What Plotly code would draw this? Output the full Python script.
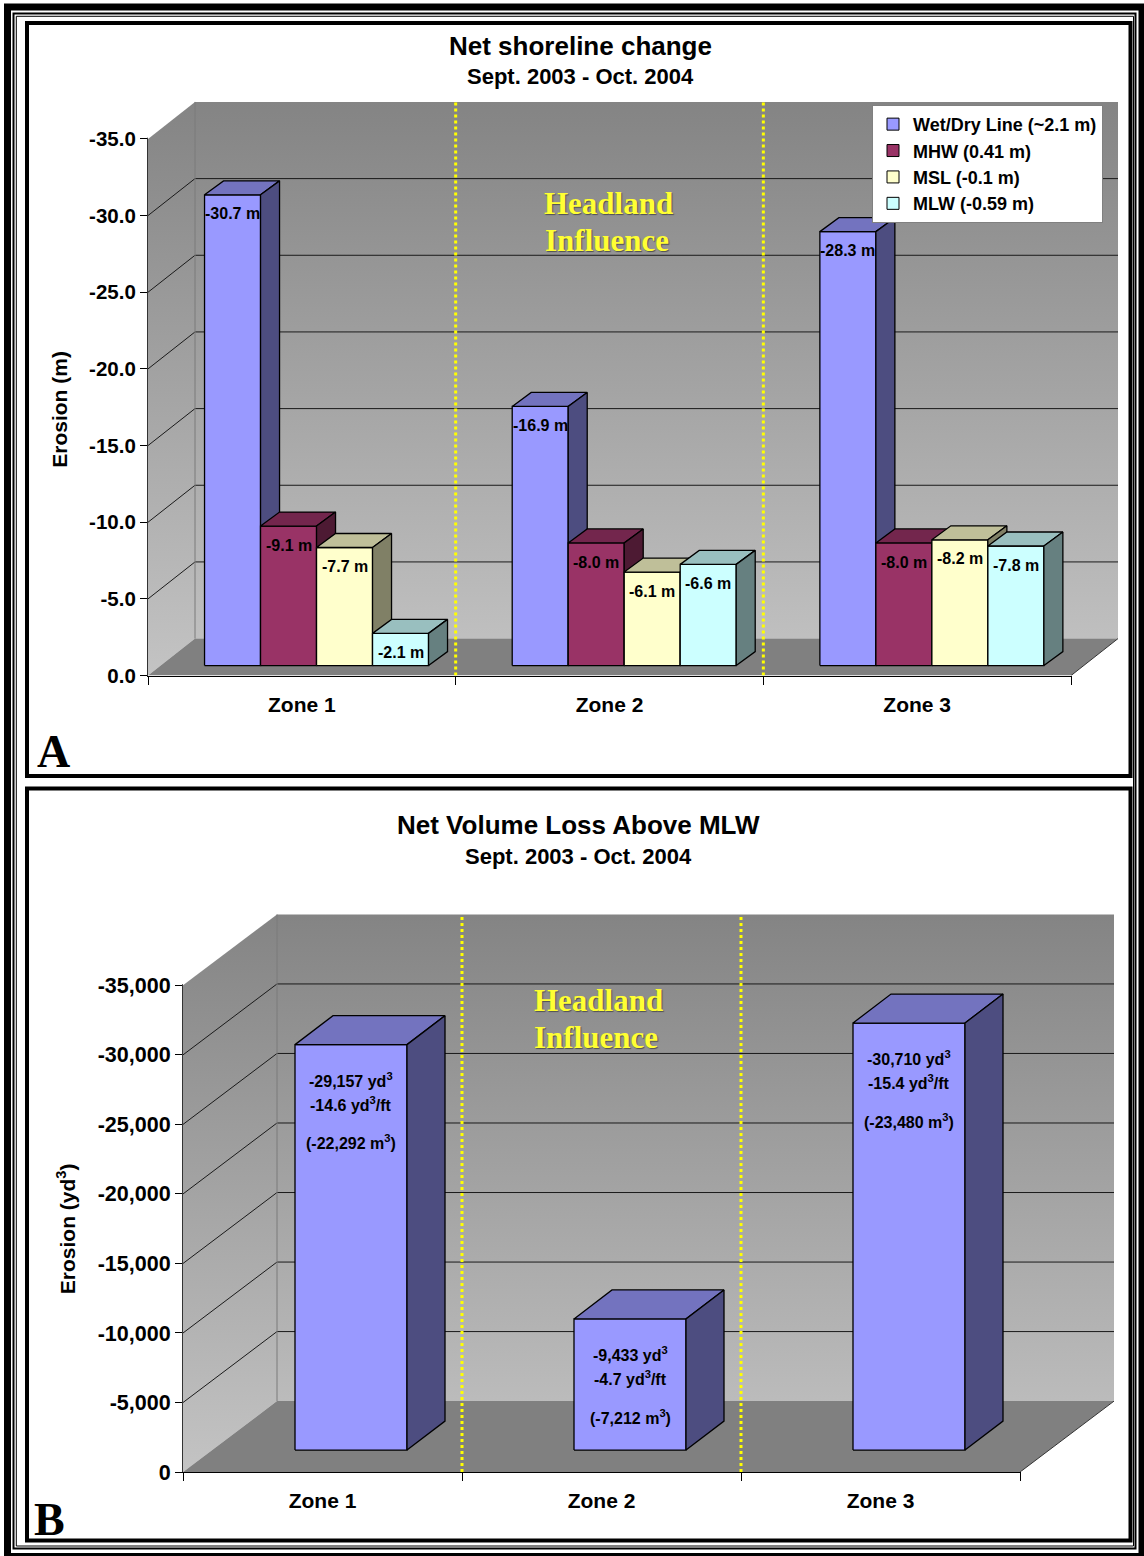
import plotly.graph_objects as go

# layout canvas (pixel positions below are given on a 1144 x 1556 grid)
W, H_GRID = 1144, 1556
H = 1568
SY = H / H_GRID

# ---------------- data ----------------
ZONES = ["Zone 1", "Zone 2", "Zone 3"]

SERIES_A = ["Wet/Dry Line (~2.1 m)", "MHW (0.41 m)", "MSL (-0.1 m)", "MLW (-0.59 m)"]
WET_DRY_LINE = [-30.7, -16.9, -28.3]
MHW = [-9.1, -8.0, -8.0]
MSL = [-7.7, -6.1, -8.2]
MLW = [-2.1, -6.6, -7.8]
TICKS_A = [0, -5, -10, -15, -20, -25, -30, -35]
TICK_TEXT_A = [f"{v:.1f}" for v in TICKS_A]

VOLUME_YD3 = [-29157, -9433, -30710]
VOLUME_YD3_PER_FT = [-14.6, -4.7, -15.4]
VOLUME_M3 = [-22292, -7212, -23480]
TICKS_B = [0, -5000, -10000, -15000, -20000, -25000, -30000, -35000]
TICK_TEXT_B = [f"{v:,}" for v in TICKS_B]

# ---------------- styles ----------------
SANS = "Liberation Sans, Arial, sans-serif"
SERIF = "Liberation Serif, Times New Roman, serif"
# front / top / side shading of each series
FACES_A = [
    ("#9999FF", "#7373BF", "#4D4D80"),
    ("#993366", "#73264D", "#4D1A33"),
    ("#FFFFCC", "#BFBF99", "#808066"),
    ("#CCFFFF", "#99BFBF", "#668080"),
]
FACES_B = ("#9999FF", "#7373BF", "#4D4D80")
WALL_SCALE = [[0, "#C4C4C4"], [1, "#848484"]]
FLOOR = "#808080"

# pixel geometry of the two oblique-projection panels
GEOM = {
    "A": dict(ax="", left=148, zone=307.67, right=1124, zero=676, per=537 / 35, top=98,
              depth=(47, 37), bar_shift=(14.7, 10), bar_depth=(19, 14), bar_w=56,
              ymax=-35, ticks=TICKS_A, ticktext=TICK_TEXT_A, tickfont=20.5),
    "B": dict(ax="2", left=183, zone=279, right=1124, zero=1473, per=487 / 35000, top=905,
              depth=(94, 71), bar_shift=(28.5, 22), bar_depth=(38, 29), bar_w=112,
              ymax=-35000, ticks=TICKS_B, ticktext=TICK_TEXT_B, tickfont=21.5),
}


def ux(g, px):
    return px / g["zone"]


def uy(g, px):
    # upward pixel distance -> value units (more negative is higher)
    return -px / g["per"]


def px_x(px):
    return px / W


def px_y(py):
    return 1 - py / H_GRID


fig = go.Figure()


def poly(g, xs, ys, **kw):
    fig.add_trace(go.Scatter(x=xs, y=ys, mode="lines", fill="toself", hoverinfo="skip",
                             showlegend=False, xaxis="x" + g["ax"], yaxis="y" + g["ax"], **kw))


def line(g, xs, ys, color, width=1, dash="solid"):
    fig.add_trace(go.Scatter(x=xs, y=ys, mode="lines", hoverinfo="skip", showlegend=False,
                             line=dict(color=color, width=width, dash=dash),
                             xaxis="x" + g["ax"], yaxis="y" + g["ax"]))


def draw_box(g):
    n = len(ZONES)
    dx, dy = ux(g, g["depth"][0]), uy(g, g["depth"][1])
    top = g["ymax"] + dy
    grad = dict(type="vertical", colorscale=WALL_SCALE, start=0, stop=top)
    # left side wall
    poly(g, [0, 0, dx, dx, 0], [0, g["ymax"], top, dy, 0], fillgradient=grad,
         line=dict(width=0, color="rgba(0,0,0,0)"))
    # back wall
    poly(g, [dx, n + dx, n + dx, dx, dx], [dy, dy, top, top, dy], fillgradient=grad,
         line=dict(width=0, color="rgba(0,0,0,0)"))
    # floor
    poly(g, [0, n, n + dx, dx, 0], [0, 0, dy, dy, 0], fillcolor=FLOOR,
         line=dict(width=0, color="rgba(0,0,0,0)"))
    # gridlines on the back wall and their diagonals on the side wall
    gx, gy = [], []
    for v in g["ticks"][1:-1]:
        gx += [0, dx, n + dx, None]
        gy += [v, v + dy, v + dy, None]
    line(g, gx, gy, "#1a1a1a", 1)
    line(g, [dx, dx], [dy, top], "#7a7a7a", 1)
    line(g, [n, n + dx], [0, dy], "#333333", 1)
    # headland boundaries
    for b in (1, 2):
        line(g, [b, b], [0, top], "#FFFF00", 3, "dot")


def prism(g, xc, value, faces):
    sx, sy = ux(g, g["bar_shift"][0]), uy(g, g["bar_shift"][1])
    dx, dy = ux(g, g["bar_depth"][0]), uy(g, g["bar_depth"][1])
    hw = ux(g, g["bar_w"]) / 2
    L, R = xc - hw + sx, xc + hw + sx
    B, T = sy, value + sy
    edge = dict(color="#000000", width=1.3)
    poly(g, [L, R, R, L, L], [B, B, T, T, B], fillcolor=faces[0], line=edge)
    poly(g, [L, R, R + dx, L + dx, L], [T, T, T + dy, T + dy, T], fillcolor=faces[1], line=edge)
    poly(g, [R, R + dx, R + dx, R, R], [B, B + dy, T + dy, T, B], fillcolor=faces[2], line=edge)
    return (L + R) / 2, T


annotations = []

# ---------------- panel A: shoreline change ----------------
gA = GEOM["A"]
draw_box(gA)
series_a = [WET_DRY_LINE, MHW, MSL, MLW]
bw = ux(gA, gA["bar_w"])
for z in range(len(ZONES)):
    for i, vals in enumerate(series_a):
        xc = z + 0.5 + (i - 1.5) * bw
        cx, ty = prism(gA, xc, vals[z], FACES_A[i])
        annotations.append(dict(x=cx, y=ty, xref="x", yref="y", yshift=-19 * SY,
                                yanchor="middle", text=f"{vals[z]:.1f} m", showarrow=False,
                                font=dict(family=SANS, size=16, weight="bold", color="#000000")))
for name, faces in zip(SERIES_A, FACES_A):
    fig.add_trace(go.Scatter(x=[None], y=[None], mode="markers", name=name,
                             marker=dict(symbol="square", size=12, color=faces[0],
                                         line=dict(color="#000000", width=1)),
                             xaxis="x", yaxis="y"))

# ---------------- panel B: volume loss ----------------
gB = GEOM["B"]
draw_box(gB)
for z in range(len(ZONES)):
    cx, ty = prism(gB, z + 0.5, VOLUME_YD3[z], FACES_B)
    lines = [f"{VOLUME_YD3[z]:,} yd<sup>3</sup>",
             f"{VOLUME_YD3_PER_FT[z]:.1f} yd<sup>3</sup>/ft",
             f"({VOLUME_M3[z]:,} m<sup>3</sup>)"]
    for txt, sh in zip(lines, (-35, -59, -97)):
        annotations.append(dict(x=cx, y=ty, xref="x2", yref="y2", yshift=sh * SY,
                                yanchor="middle", text=txt, showarrow=False,
                                font=dict(family=SANS, size=16, weight="bold", color="#000000")))


def axes(g):
    n = len(ZONES)
    xa = dict(domain=[px_x(g["left"]), px_x(g["right"])],
              range=[0, ux(g, g["right"] - g["left"])],
              tickvals=[z + 0.5 for z in range(n)], ticktext=ZONES, ticks="",
              ticklabelstandoff=10,
              minor=dict(tickvals=list(range(n + 1)), ticks="outside", ticklen=8,
                         tickcolor="#000000", tickwidth=1, showgrid=False),
              showline=True, linecolor="#000000", linewidth=1.2, showgrid=False,
              zeroline=False, anchor="y" + g["ax"],
              tickfont=dict(family=SANS, size=21, weight="bold", color="#000000"))
    ya = dict(domain=[px_y(g["zero"]), px_y(g["top"])],
              range=[0, uy(g, g["zero"] - g["top"])],
              tickvals=g["ticks"], ticktext=g["ticktext"], ticks="outside", ticklen=7,
              tickcolor="#000000", tickwidth=1,
              showline=True, linecolor="#333333", linewidth=1.2, showgrid=False,
              zeroline=False, anchor="x" + g["ax"],
              tickfont=dict(family=SANS, size=g["tickfont"], weight="bold", color="#000000"))
    return xa, ya


xa, ya = axes(gA)
xb, yb = axes(gB)

# ---------------- text ----------------
def label(px, py, text, size, family=SANS, color="#000000", angle=0, **kw):
    annotations.append(dict(x=px_x(px), y=px_y(py), xref="paper", yref="paper", text=text,
                            showarrow=False, xanchor="center", yanchor="middle", textangle=angle,
                            font=dict(family=family, size=size, weight="bold", color=color, **kw)))


label(580, 46, "Net shoreline change", 26)
label(580, 77, "Sept. 2003 - Oct. 2004", 22)
label(578, 826, "Net Volume Loss Above MLW", 26)
label(578, 857, "Sept. 2003 - Oct. 2004", 22)
label(60, 410, "Erosion (m)", 21, angle=-90)
label(66, 1230, "Erosion (yd<sup>3</sup>)", 21, angle=-90)
label(53, 752, "A", 46, family=SERIF)
label(49, 1520, "B", 46, family=SERIF)
for (hx, hy) in ((609, 204), (598, 1001)):
    label(hx, hy, "Headland", 31, family=SERIF, color="#FFFF33", shadow="1px 1px 1px #505050")
    label(hx - 2, hy + 37, "Influence", 31, family=SERIF, color="#FFFF33",
          shadow="1px 1px 1px #505050")

# ---------------- frames ----------------
shapes = []


def rect(x0, y0, x1, y1, lw=0, lc="#000000", fill=None, layer="above"):
    shapes.append(dict(type="rect", xref="paper", yref="paper", x0=px_x(x0), x1=px_x(x1),
                       y0=px_y(y0), y1=px_y(y1), line=dict(width=lw, color=lc),
                       fillcolor=fill, layer=layer))


# hide the axis lines where they run past the front plane
for g in (gA, gB):
    y_top_tick = g["zero"] + g["ymax"] * g["per"]
    rect(g["left"] - 5, g["top"] - 4, g["left"] + 0.2, y_top_tick - 1.2, fill="#FFFFFF")
    x_end = g["left"] + len(ZONES) * g["zone"]
    rect(x_end + 1, g["zero"] - 0.2, g["right"] + 4, g["zero"] + 5, fill="#FFFFFF")

# outer border (cut by the right and bottom edges) and the two panel frames
rect(7.5, 7, 1142, 1557.5, lw=7)
rect(13.5, 13.5, 1135.5, 1549.5, lw=2)
rect(16.3, 16.3, 1133.5, 1547, lw=1)
rect(27, 23, 1130.5, 776.5, lw=4)
rect(27, 789, 1130.5, 1541.5, lw=4)

fig.update_layout(
    width=W, height=H, margin=dict(l=0, r=0, t=0, b=0),
    paper_bgcolor="#FFFFFF", plot_bgcolor="#FFFFFF",
    xaxis=xa, yaxis=ya, xaxis2=xb, yaxis2=yb,
    annotations=annotations, shapes=shapes,
    showlegend=True,
    legend=dict(x=px_x(872), y=px_y(105), xanchor="left", yanchor="top",
                bgcolor="#FFFFFF", bordercolor="#808080", borderwidth=1,
                font=dict(family=SANS, size=18, weight="bold", color="#000000"),
                itemwidth=30, tracegroupgap=0),
)

# page without body margin so the figure fills the window exactly
fig.write_html("out.html", post_script="document.body.style.margin='0px';")
